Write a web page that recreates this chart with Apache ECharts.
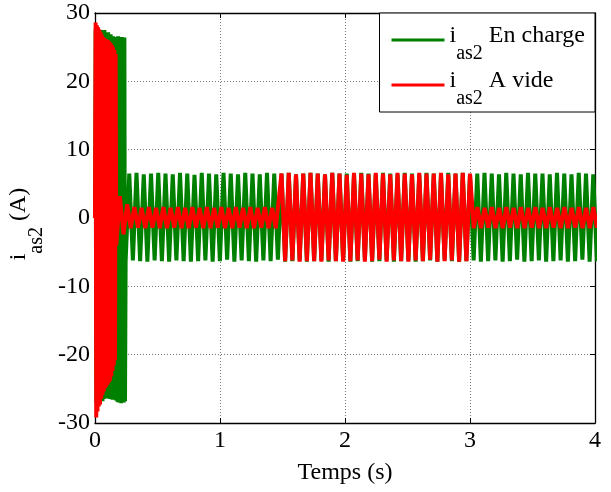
<!DOCTYPE html>
<html><head><meta charset="utf-8">
<script src="https://cdn.jsdelivr.net/npm/echarts@6/dist/echarts.min.js"></script>
<style>html,body{margin:0;padding:0;background:#fff}#c{width:611px;height:492px}</style>
</head><body><div id="c"></div>
<script>
// ---- data ----
const xTicks = [0, 1, 2, 3, 4];
const yTicks = [-30, -20, -10, 0, 10, 20, 30];
const seriesNames = ['En charge', 'A vide'];
const fastStep = 0.005;   // sampling of the start-up transient (s)
const slowStep = 0.029;   // half period of the visible waveform (s)

const greenTransientStart = 0;
const greenTransient = [0, 27.6, -27.0, 27.8, -27.3, 27.2, -26.9, 27.4, -27.1, 27.0, -26.6, 27.5, -26.8, 27.3, -26.5, 27.5, -26.4, 27.1, -26.3, 26.8, -26.4, 27.2, -26.2, 26.6, -26.5, 26.9, -26.3, 26.4, -26.6, 26.6, -26.4, 26.3, -26.3, 26.5, -26.7, 26.4, -26.9, 26.6, -27.0, 26.5, -26.8, 26.4, -27.1, 26.5, -26.9, 26.3, -27.0, 26.4, -26.8];
const greenSteadyStart = 0.245;
const greenSteady = [
 -6.3, 6.5, -6.2, 6.6, -6.3, 6.4, -6.4, 6.5, -6.2, 6.6,
 -6.3, 6.5, -6.4, 6.4, -6.2, 6.6, -6.3, 6.5, -6.4, 6.3,
 -6.3, 6.6, -6.2, 6.5, -6.4, 6.4, -6.3, 6.6, -6.1, 6.5,
 -6.4, 6.4, -6.2, 6.6, -6.3, 6.5, -6.4, 6.4, -6.2, 6.6,
 -6.3, 6.5, -6.1, 6.5, -6.4, 6.6, -6.3, 6.4, -6.2, 6.5,
 -6.4, 6.6, -6.3, 6.5, -6.2, 6.4, -6.4, 6.6, -6.3, 6.5,
 -6.2, 6.5, -6.4, 6.4, -6.3, 6.6, -6.1, 6.5, -6.4, 6.4,
 -6.3, 6.6, -6.2, 6.5, -6.4, 6.4, -6.3, 6.6, -6.2, 6.5,
 -6.4, 6.4, -6.3, 6.6, -6.2, 6.5, -6.4, 6.4, -6.1, 6.6,
 -6.3, 6.5, -6.4, 6.6, -6.3, 6.4, -6.2, 6.5, -6.4, 6.6,
 -6.3, 6.5, -6.2, 6.4, -6.4, 6.6, -6.3, 6.5, -6.1, 6.4,
 -6.4, 6.6, -6.3, 6.5, -6.2, 6.5, -6.4, 6.4, -6.3, 6.6,
 -6.2, 6.5, -6.4, 6.4, -6.3, 6.6, -6.1, 6.5, -6.4, 6.4,
 -6.3, 6.6, -6.2, 6.5, -6.4, 6.4];

const redTransientStart = 0;
const redTransient = [0, 28.6, -29.2, 28.2, -28.3, 27.9, -27.6, 27.6, -27.3, 27.2, -26.4, 26.8, -25.9, 26.5, -25.4, 26.3, -24.9, 26.2, -24.7, 26.1, -24.4, 26.0, -24.1, 25.8, -23.8, 25.6, -23.2, 25.3, -22.4, 25.0, -21.6, 24.6, -20.8, 24.0];
const redLow1Start = 0.17;
const redLow1 = [
 -4.0, 3.2, -2.4, 2.0, -1.5, 1.6, -1.4, 1.5, -1.5, 1.6,
 -1.4, 1.5, -1.5, 1.6, -1.5, 1.5, -1.4, 1.6, -1.5, 1.5,
 -1.5, 1.6, -1.4, 1.5, -1.5, 1.6, -1.5, 1.5, -1.4, 1.6,
 -1.5, 1.5, -1.5, 1.6, -1.4, 1.5, -1.5, 1.6, -1.5, 1.5,
 -1.4, 1.6, -1.5, 1.5, -1.5];
const redHighStart = 1.492;
const redHigh = [
 6.5, -6.3, 6.6, -6.2, 6.4, -6.4, 6.5, -6.3, 6.6, -6.3,
 6.5, -6.4, 6.4, -6.2, 6.6, -6.3, 6.5, -6.4, 6.3, -6.3,
 6.6, -6.2, 6.5, -6.4, 6.4, -6.3, 6.6, -6.1, 6.5, -6.4,
 6.4, -6.2, 6.6, -6.3, 6.5, -6.4, 6.4, -6.2, 6.6, -6.3,
 6.5, -6.1, 6.5, -6.4, 6.6, -6.3, 6.4, -6.2, 6.5, -6.4,
 6.6, -6.3, 6.5];
const redLow2Start = 3.03;
const redLow2 = [
 -1.5, 1.6, -1.5, 1.5, -1.4, 1.6, -1.5, 1.5, -1.5, 1.6,
 -1.4, 1.5, -1.5, 1.6, -1.5, 1.5, -1.4, 1.6, -1.5, 1.5,
 -1.5, 1.6, -1.4, 1.5, -1.5, 1.6, -1.5, 1.5, -1.4, 1.6,
 -1.5, 1.5, -1.5, 1.6, -1.4, 1.5, -1.5, 1.6];

// ---- build ----
function seg(start, step, vals) { return vals.map((v, i) => [start + i * step, v]); }
const greenData = seg(greenTransientStart, fastStep, greenTransient).concat(seg(greenSteadyStart, slowStep, greenSteady));
const redData = seg(redTransientStart, fastStep, redTransient)
  .concat(seg(redLow1Start, slowStep, redLow1))
  .concat(seg(redHighStart, slowStep, redHigh))
  .concat(seg(redLow2Start, slowStep, redLow2));

const FONT = 'Liberation Serif';
const rich = {
  t: { fontFamily: FONT, fontSize: 24, color: '#000', lineHeight: 26, verticalAlign: 'top' },
  s: { fontFamily: FONT, fontSize: 20, color: '#000', lineHeight: 20, padding: [20, 0, 0, 0], verticalAlign: 'top' }
};
const black = { color: '#000', width: 1.3 };
const common = (min, max, interval) => ({ type: 'value', min, max, interval,
  axisLine: { show: true, onZero: false, lineStyle: black },
  axisTick: { show: true, inside: true, length: 5, lineStyle: { color: '#000', width: 1 } }
});

const chart = echarts.init(document.getElementById('c'), null, { renderer: 'canvas' });
chart.setOption({
  animation: false,
  backgroundColor: '#fff',
  grid: { left: 95, right: 16, top: 13, bottom: 69, containLabel: false, outerBoundsMode: 'none' },
  xAxis: [
    Object.assign(common(xTicks[0], xTicks[xTicks.length - 1], 1), {
      position: 'bottom',
      axisLabel: { color: '#000', fontFamily: FONT, fontSize: 24, margin: 6 },
      splitLine: { show: true, lineStyle: { color: '#777', width: 1, type: [1, 2] } },
      name: 'Temps (s)', nameLocation: 'middle', nameGap: 38,
      nameTextStyle: { color: '#000', fontFamily: FONT, fontSize: 24 }
    }),
    Object.assign(common(xTicks[0], xTicks[xTicks.length - 1], 1), {
      position: 'top', axisLabel: { show: false }, splitLine: { show: false }
    })
  ],
  yAxis: [
    Object.assign(common(yTicks[0], yTicks[yTicks.length - 1], 10), {
      position: 'left',
      axisLabel: { color: '#000', fontFamily: FONT, fontSize: 24, margin: 5 },
      splitLine: { show: true, lineStyle: { color: '#777', width: 1, type: [1, 2] } },
      name: '{t|i}{s|as2}{t| (A)  }', nameLocation: 'middle', nameGap: 54, nameRotate: 90,
      nameTextStyle: { rich }
    }),
    Object.assign(common(yTicks[0], yTicks[yTicks.length - 1], 10), {
      position: 'right', axisLabel: { show: false }, splitLine: { show: false }
    })
  ],
  legend: {
    orient: 'vertical', right: 16, top: 13,
    backgroundColor: '#fff', borderColor: '#000', borderWidth: 1, borderRadius: 0,
    padding: [11, 10, 3, 12], itemGap: 5, itemWidth: 53, itemHeight: 3, icon: 'rect',
    data: seriesNames,
    formatter: n => '{t|i}{s|as2}{t| ' + n + '}',
    textStyle: { padding: [0, 0, 6, 0], rich }
  },
  series: [
    { name: seriesNames[0], type: 'line', data: greenData, showSymbol: false, symbol: 'none',
      lineStyle: { color: '#008000', width: 4 }, itemStyle: { color: '#008000' }, z: 2 },
    { name: seriesNames[1], type: 'line', data: redData, showSymbol: false, symbol: 'none',
      lineStyle: { color: '#ff0000', width: 4 }, itemStyle: { color: '#ff0000' }, z: 3 }
  ]
});
</script></body></html>
